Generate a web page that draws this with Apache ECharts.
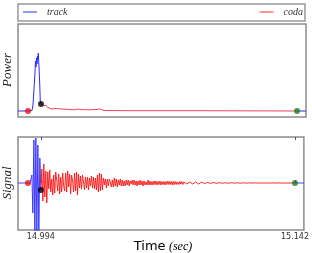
<!DOCTYPE html>
<html><head><meta charset="utf-8">
<script src="https://cdn.jsdelivr.net/npm/echarts@6/dist/echarts.min.js"></script>
<style>html,body{margin:0;padding:0;background:#fff}#c{width:312px;height:253px}</style>
</head><body><div id="c"></div>
<script>
// ---- data ----
const tickLabels = [14.994, 15.142];
const onsetTime = 14.98649;
const codaStartTime = 14.994;
const codaEndTime = 15.142;

const powerTime = [14.98071,14.98649,14.98880,14.98938,14.98995,14.99053,14.99082,14.99111,14.99140,14.99169,14.99198,14.99227,14.99244,14.99267,14.99284,14.99325,14.99360,14.99400,14.99458,14.99533,14.99602,14.99689,14.99747,14.99805,14.99920,15.00036,15.00151,15.00267,15.00383,15.00498,15.00787,15.01076,15.01365,15.01539,15.01770,15.02232,15.02637,15.02810,15.02926,15.03099,15.04544,15.08590,15.14197,15.14717];
const powerValues = [0,0,0.5,6,22,38,50,44,53,47,55,51,58,50,44,28,9,7,5,5.5,4.5,5.5,5,3.5,3,2,1.5,2.7,2.2,1.5,1.8,1.5,1.2,2,1.3,1.2,1.5,2.2,1,0.5,0.3,0.3,0,0];

const signalStart = 14.98071;   // time of first sample (s)
const sampleInterval = 0.000578; // s per sample
const signalValues = [
0,0,0,0,0,0,0,0,0,0,
0,0.5,-0.5,1,8,-30,43,-50,45,-50,
38,-50,25,-7,14,-18,19,-14,12,-20,
11,-6,13,-9,4,-12,8,-10,11,3,
-8,9,-11,6,-9,10,-3,-8,10,-9,
12,-4,9,-11,8,2,-9,10,-8,11,
-12,9,-5,7,-6,8,1,-7,6,-5,
6,-7,5,-3,7,-5,6,-6,5,-7,
8,-9,10,-8,9,-7,5,-2,4,-5,
4,-3,4,1,-4,3,-4,5,-3,4,
-4,3,-2,4,-3,3,-3,2,-3,3,
-2,3,-3,2,-1,3,-2,3,-2,2,
-3,2,-2,3,-2,2,-3,2,-2,1,
-2,3,-2,2,-2,1.5,-2,2,-1.5,2,
-2,1.5,-1.5,2,-2,1.5,-1.5,1.5,-2,1.5,
-1.5,2,-1.5,1.5,-1.5,1.5,-2,1.5,-1.5,1.5,
-1.5,1,-1.5,1.5,-1,1.5,-1.5,1,-1,1.5,
-1,1,-1.5,1,-1,1,-1,1,-1,1,
-1,1,-1,0.8,-0.8,0.8,-0.7,0.8,-0.6,0.7,
-0.6,0.7,-0.6,0.5,-0.6,0.5,-0.5,0.6,-0.5,0.5,
-0.4,0.5,-0.4,0.4,-0.4,0.4,-0.3,0.4,-0.3,0.3,
-0.3,0.3,-0.3,0.3,-0.2,0.3,-0.2,0.2,-0.2,0.2,
-0.2,0.2,-0.2,0.2,-0.2,0.2,-0.2,0.2,-0.2,0.2,
-0.2,0.2,-0.2,0.2,-0.2,0.1,-0.1,0.2,-0.1,0.1,
-0.1,0.1,-0.1,0.1,-0.1,0.1,-0.1,0.1,-0.1,0.1,
-0.1,0.1,-0.1,0.1,-0.1,0.1,-0.1,0.1,-0.1,0.1,
-0.1,0.1,-0.1,0.1,-0.1,0.1,-0.1,0,0,0,
0,0,0,0,0,0,0,0,0,0,
0,0,0,0,0,0,0,0,0
];

// ---- build ----
const xMin = 14.98071, xMax = 15.14717;
const powerData = powerTime.map((t,i)=>[t, powerValues[i]]);
const inCoda = t => t >= codaStartTime - 1e-6 && t <= codaEndTime + 1e-4;
const powerCoda = powerData.filter(p => inCoda(p[0]));
const powerPre = powerData.filter(p => p[0] <= codaStartTime + 1e-6);
const powerPost = powerData.filter(p => p[0] >= codaEndTime - 1e-4);
const signalData = signalValues.map((v,i)=>[signalStart + i*sampleInterval, v]);
const idx = t => Math.round((t - signalStart)/sampleInterval);
const signalCoda = signalData.slice(idx(codaStartTime), idx(codaEndTime)+1);
const signalPre = signalData.slice(0, idx(codaStartTime)+1);
const signalPost = signalData.slice(idx(codaEndTime));
const nearestPower = t => { let b=0; powerTime.forEach((pt,i)=>{ if (Math.abs(pt-t) < Math.abs(powerTime[b]-t)) b=i; }); return powerData[b]; };
const sig = t => signalData[idx(t)];

const BLUE = '#2a2aff', RED = '#ff1414', PINK = '#ee4466';
const dotStyle = (c) => ({ color: c });

const chart = echarts.init(document.getElementById('c'), null, {renderer:'canvas'});
const xBase = { type:'value', min:xMin, max:xMax, splitLine:{show:false}, axisLine:{show:false} };
const legText = {fontFamily:'Liberation Serif', fontStyle:'italic', fontSize:10, color:'#333', padding:[0,0,0,5]};
const line = (name, xi, data, color, w, z) => ({ name, type:'line', xAxisIndex:xi, yAxisIndex:xi, data, showSymbol:false,
  lineStyle:{color, width:w}, itemStyle:{color: name==='track' ? '#5050ff' : '#ff5050'}, z });
chart.setOption({
  animation:false,
  legend:[
    { data:['track'], left:18, top:2, icon:'rect', itemWidth:14, itemHeight:1.2, textStyle:legText, selectedMode:false },
    { data:['coda'], right:4, top:2, icon:'rect', itemWidth:14, itemHeight:1.2, textStyle:legText, selectedMode:false }
  ],
  grid:[
    { left:18, top:24, width:288, height:93, show:true, borderColor:'#8c8c8c', borderWidth:1.5, backgroundColor:'#fff' },
    { left:18, top:137, width:288, height:93, show:true, borderColor:'#8c8c8c', borderWidth:1.5, backgroundColor:'#fff' }
  ],
  xAxis:[
    Object.assign({}, xBase, { gridIndex:0, axisLabel:{show:false}, axisTick:{show:false} }),
    Object.assign({}, xBase, { gridIndex:1, position:'bottom',
      axisTick:{show:true, inside:true, length:3, customValues:tickLabels, lineStyle:{color:'#555'}},
      axisLabel:{show:true, customValues:tickLabels, formatter:v=>v.toFixed(3), fontFamily:'DejaVu Sans', fontSize:8, color:'#333', margin:3} }),
    Object.assign({}, xBase, { gridIndex:1, position:'top',
      axisTick:{show:true, inside:true, length:3, customValues:tickLabels, lineStyle:{color:'#555'}},
      axisLabel:{show:false} })
  ],
  yAxis:[
    { type:'value', gridIndex:0, min:-6, max:87, show:false },
    { type:'value', gridIndex:1, min:-47, max:46, show:false }
  ],
  graphic:[
    { type:'rect', shape:{x:18, y:4, width:287, height:17}, style:{fill:'none', stroke:'#999', lineWidth:1.5}, z:-1 },
    { type:'text', x:8, y:70, rotation:Math.PI/2, style:{text:'Power', font:'italic 13px "Liberation Serif"', fill:'#222', textAlign:'center', textVerticalAlign:'middle'} },
    { type:'text', x:8, y:183, rotation:Math.PI/2, style:{text:'Signal', font:'italic 13px "Liberation Serif"', fill:'#222', textAlign:'center', textVerticalAlign:'middle'} },
    { type:'text', x:163, y:247, style:{text:'{a|Time} {b|(sec)}', textAlign:'center', textVerticalAlign:'middle',
      rich:{ a:{fontFamily:'DejaVu Sans', fontSize:13, color:'#222'}, b:{fontFamily:'Liberation Serif', fontStyle:'italic', fontSize:12, color:'#222'} } } }
  ],
  series:[
    line('track', 0, powerPre, BLUE, 1, 2),
    line('track', 0, powerPost, BLUE, 1, 2),
    line('coda', 0, powerCoda, PINK, 1, 3),
    line('track', 1, signalPre, BLUE, 0.9, 2),
    line('track', 1, signalPost, BLUE, 0.9, 2),
    line('coda', 1, signalCoda, RED, 0.9, 3),
    { name:'dotsP', type:'scatter', xAxisIndex:0, yAxisIndex:0, symbolSize:6, z:5,
      data:[ {value:nearestPower(onsetTime), itemStyle:dotStyle('#ee1111')},
             {value:nearestPower(codaStartTime), itemStyle:dotStyle('#000')},
             {value:nearestPower(codaEndTime), itemStyle:dotStyle('#1a7f1a')} ] },
    { name:'dotsS', type:'scatter', xAxisIndex:1, yAxisIndex:1, symbolSize:6, z:5,
      data:[ {value:sig(onsetTime), itemStyle:dotStyle('#ee1111')},
             {value:sig(codaStartTime), itemStyle:dotStyle('#000')},
             {value:sig(codaEndTime), itemStyle:dotStyle('#1a7f1a')} ] }
  ]
});
</script></body></html>
